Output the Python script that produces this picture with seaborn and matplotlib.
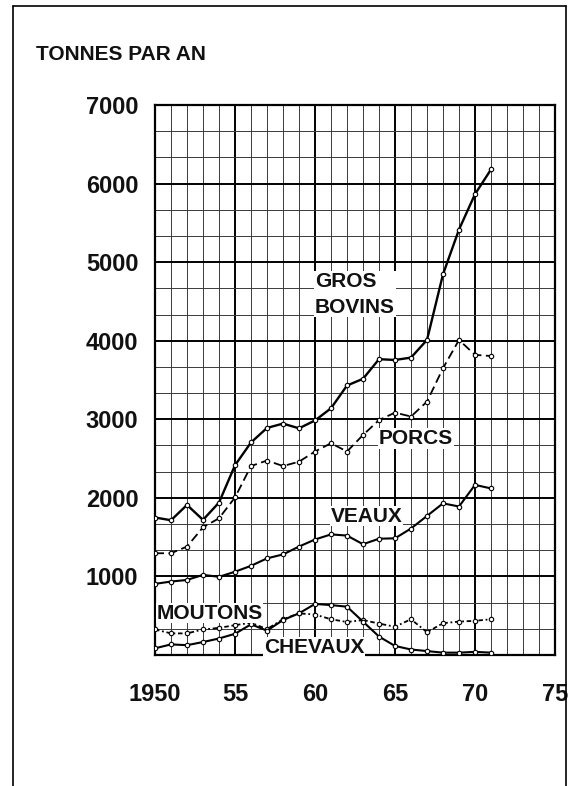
import matplotlib
matplotlib.use("Agg")
import matplotlib.pyplot as plt
from matplotlib.lines import Line2D
from matplotlib.ticker import MultipleLocator
import numpy as np
import pandas as pd
import seaborn as sns

# ── data ────────────────────────────────────────────────────────────────────
years = list(range(1950, 1972))

gros_bovins = [1750, 1715, 1910, 1720, 1940, 2415, 2705, 2890, 2945, 2885, 2985,
               3140, 3430, 3515, 3765, 3755, 3785, 4010, 4845, 5415, 5865, 6180]
porcs = [1295, 1295, 1380, 1625, 1740, 2005, 2405, 2475, 2405, 2460, 2590,
         2695, 2590, 2800, 2990, 3085, 3035, 3225, 3650, 4010, 3820, 3805]
veaux = [905, 935, 955, 1020, 995, 1060, 1135, 1230, 1280, 1380, 1470,
         1535, 1520, 1410, 1480, 1485, 1610, 1770, 1930, 1890, 2165, 2120]
moutons = [325, 275, 275, 325, 345, 380, 410, 330, 455, 530, 515,
           455, 420, 445, 400, 360, 455, 290, 405, 425, 435, 455]
chevaux = [85, 135, 125, 165, 210, 270, 390, 310, 445, 530, 650,
           635, 615, 425, 235, 115, 70, 50, 30, 30, 40, 30]

x_ticks = [1950, 1955, 1960, 1965, 1970, 1975]
x_tick_labels = ["1950", "55", "60", "65", "70", "75"]
y_ticks = [1000, 2000, 3000, 4000, 5000, 6000, 7000]

df = pd.DataFrame({
    "annee": years * 5,
    "tonnes": gros_bovins + porcs + veaux + moutons + chevaux,
    "serie": (["GROS BOVINS"] * len(years) + ["PORCS"] * len(years)
              + ["VEAUX"] * len(years) + ["MOUTONS"] * len(years)
              + ["CHEVAUX"] * len(years)),
})

# ── style ───────────────────────────────────────────────────────────────────
sns.set_theme(style="white")
plt.rcParams["font.family"] = ["Liberation Sans", "DejaVu Sans"]

line_styles = {
    "GROS BOVINS": dict(ls="-", lw=1.7),
    "PORCS": dict(ls=(0, (5, 2.5)), lw=1.3),
    "VEAUX": dict(ls="-", lw=1.5),
    "MOUTONS": dict(ls=(0, (2.5, 1.5, 1, 1.5)), lw=1.3),
    "CHEVAUX": dict(ls="-", lw=1.5),
}

fig = plt.figure(figsize=(5.71, 7.86), dpi=100)
ax = fig.add_axes([155 / 571, 1 - 655 / 786, 400 / 571, 550 / 786])

for name, st in line_styles.items():
    sub = df[df.serie == name]
    sns.lineplot(data=sub, x="annee", y="tonnes", ax=ax, color="black",
                 linestyle=st["ls"], linewidth=st["lw"], marker="o",
                 markersize=3.2, markerfacecolor="white",
                 markeredgecolor="black", markeredgewidth=0.8,
                 legend=False, zorder=4)

ax.set_xlim(1950, 1975)
ax.set_ylim(0, 7000)

# ── grid: 1 year / 333 t minor, 5 years / 1000 t major ──────────────────────
ax.xaxis.set_major_locator(MultipleLocator(5))
ax.xaxis.set_minor_locator(MultipleLocator(1))
ax.yaxis.set_major_locator(MultipleLocator(1000))
ax.yaxis.set_minor_locator(MultipleLocator(1000 / 3))
ax.grid(which="major", color="black", lw=1.4, zorder=1)
ax.grid(which="minor", color="#3a3a3a", lw=0.7, zorder=1)
ax.set_axisbelow(True)
for sp in ax.spines.values():
    sp.set_visible(True)
    sp.set_color("black")
    sp.set_linewidth(1.6)

ax.set_xticks(x_ticks)
ax.set_xticklabels(x_tick_labels)
ax.set_yticks(y_ticks)
ax.set_yticklabels([str(v) for v in y_ticks])
ax.tick_params(which="both", length=0)
ax.tick_params(axis="y", pad=12, labelsize=17)
ax.tick_params(axis="x", pad=20, labelsize=17)
for lab in ax.get_xticklabels() + ax.get_yticklabels():
    lab.set_fontweight("bold")
    lab.set_color("#111111")
ax.set_xlabel("")
ax.set_ylabel("")

# ── series labels written on the chart ──────────────────────────────────────
label_kw = dict(fontsize=15, fontweight="bold", color="#111111", zorder=5,
                va="center", ha="left",
                bbox=dict(facecolor="white", edgecolor="none", pad=0.5))
ax.text(1960.0, 4590, "GROS\nBOVINS", linespacing=1.45, **label_kw)
ax.text(1964.0, 2755, "PORCS", **label_kw)
ax.text(1961.0, 1765, "VEAUX", **label_kw)
ax.text(1950.1, 530, "MOUTONS", **label_kw)
ax.text(1956.8, 95, "CHEVAUX", **label_kw)

fig.text(36 / 571, 1 - 54 / 786, "TONNES PAR AN", fontsize=15,
         fontweight="bold", color="#111111", va="center", ha="left")

# page frame (left, top, right)
frame_kw = dict(color="black", lw=1.2, transform=fig.transFigure)
fig.add_artist(Line2D([13 / 571, 13 / 571], [0, 1 - 6 / 786], **frame_kw))
fig.add_artist(Line2D([13 / 571, 566 / 571], [1 - 6 / 786, 1 - 6 / 786], **frame_kw))
fig.add_artist(Line2D([566 / 571, 566 / 571], [0, 1 - 6 / 786], **frame_kw))

fig.savefig("out.png", dpi=100, facecolor="white")
